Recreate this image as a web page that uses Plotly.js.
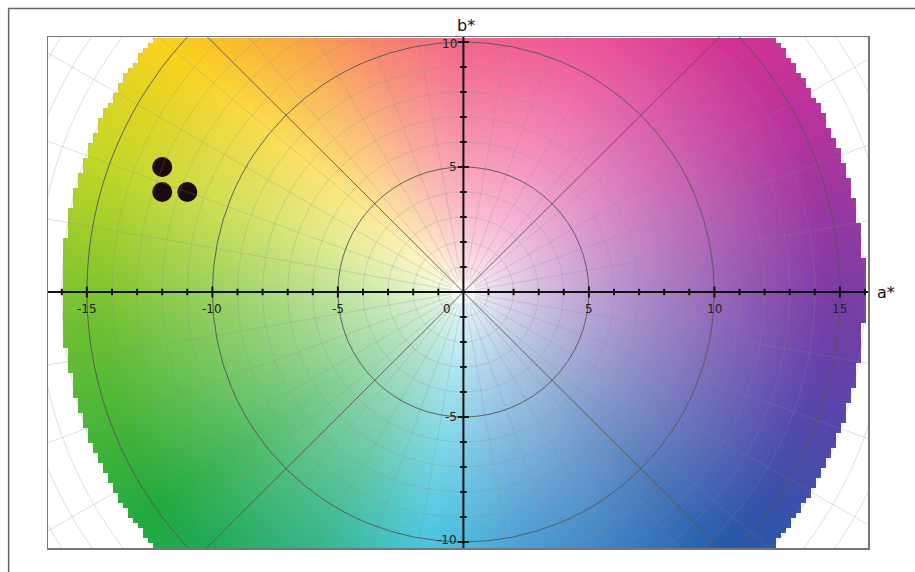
<!DOCTYPE html>
<html><head><meta charset="utf-8">
<script src="https://cdn.plot.ly/plotly-3.0.1.min.js"></script>
<style>body{margin:0;background:#fff}#plot{width:915px;height:572px}</style>
</head><body><div id="plot"></div>
<script>
// measured points (a*, b*)
const ptA = [-12, -12, -11];
const ptB = [5, 4, 4];

// colour wheel anchors: hue angle (deg from +a*) -> saturated colour
const hueAng = [0, 30, 60, 90, 110, 125, 140, 160, 185, 215, 240, 262, 285, 315, 340, 360];
const hueRGB = [
  [125,60,165],[190,50,155],[232,50,135],[238,55,105],[245,105,70],[248,160,40],[250,210,30],
  [195,215,40],[110,192,50],[35,170,62],[20,170,120],[20,182,215],[30,130,200],
  [35,90,170],[85,70,170],[125,60,165]
];
const aTicks = [-15, -10, -5, 0, 5, 10, 15];
const bTicks = [-10, -5, 5, 10];

const R = 16, XR = [-16.55, 16.12], YR = [-10.24, 10.2], D = 0.2;

function hueColor(deg) {
  for (let i = 0; i < hueAng.length - 1; i++) {
    if (deg <= hueAng[i + 1]) {
      const t = (deg - hueAng[i]) / (hueAng[i + 1] - hueAng[i]);
      return hueRGB[i].map((v, k) => v + (hueRGB[i + 1][k] - v) * t);
    }
  }
  return hueRGB[0];
}

// build the pixelated colour disk
const img = [];
for (let y = YR[0] + D / 2; y < YR[1]; y += D) {
  const row = [];
  for (let x = XR[0] + D / 2; x < XR[1]; x += D) {
    const r = Math.hypot(x, y);
    if (r > R) { row.push([255, 255, 255, 0]); continue; }
    let deg = Math.atan2(y, x) * 180 / Math.PI; if (deg < 0) deg += 360;
    const c = hueColor(deg), s = Math.min(1, Math.pow(r / 14.5, 0.7));
    row.push([...c.map(v => Math.round(255 + (v - 255) * s)), 1]);
  }
  img.push(row);
}

const shapes = [];
const L = (x0, y0, x1, y1, color, width) =>
  shapes.push({type: 'line', xref: 'x', yref: 'y', x0, y0, x1, y1, layer: 'above', line: {color, width}});
// fine polar grid
for (let r = 1; r <= 24; r++) {
  if (r % 5 === 0) continue;
  shapes.push({type: 'circle', xref: 'x', yref: 'y', x0: -r, x1: r, y0: -r, y1: r, layer: 'above',
    line: {color: 'rgba(140,140,140,0.35)', width: 0.8}});
}
for (let d = 0; d < 360; d += 10) {
  if (d % 45 === 0) continue;
  const t = d * Math.PI / 180;
  L(0.5 * Math.cos(t), 0.5 * Math.sin(t), 25 * Math.cos(t), 25 * Math.sin(t), 'rgba(140,140,140,0.35)', 0.8);
}
// main circles and diagonals
[5, 10, 15].forEach(r => shapes.push({type: 'circle', xref: 'x', yref: 'y', x0: -r, x1: r, y0: -r, y1: r,
  layer: 'above', line: {color: '#555', width: 0.9}}));
[45, 135, 225, 315].forEach(d => {
  const t = d * Math.PI / 180;
  L(0, 0, 25 * Math.cos(t), 25 * Math.sin(t), '#555', 0.9);
});
// axes with ticks
L(XR[0], 0, XR[1], 0, '#111', 2);
L(0, YR[0], 0, YR[1], '#111', 2);
for (let i = -16; i <= 16; i++) {
  if (i === 0) continue;
  const h = i % 5 === 0 ? 0.22 : 0.13;
  L(i, -h, i, h, '#111', 2);
  if (Math.abs(i) <= 10) L(-h, i, h, i, '#111', 2);
}

const ann = [];
const lblFont = {family: 'DejaVu Sans, sans-serif', size: 12, color: '#222'};
aTicks.forEach(v => ann.push({x: v === 0 ? -0.65 : v, y: 0, yshift: -17, text: String(v),
  showarrow: false, font: lblFont}));
bTicks.forEach(v => ann.push({x: 0, y: v, xanchor: 'right', xshift: -4,
  yshift: v === 10 ? -2 : v === -10 ? 2 : 0, text: String(v), showarrow: false, font: lblFont}));
ann.push({xref: 'paper', yref: 'y', x: 1.008, y: 0, xanchor: 'left', text: 'a*', showarrow: false,
  font: {family: 'DejaVu Sans, sans-serif', size: 16, color: '#111'}});
ann.push({xref: 'x', yref: 'paper', x: 0.1, y: 1.0, yanchor: 'bottom', text: 'b*', showarrow: false,
  font: {family: 'DejaVu Sans, sans-serif', size: 16, color: '#111'}});
shapes.push({type: 'rect', xref: 'paper', yref: 'paper', x0: -0.048, x1: 1.2, y0: -0.05, y1: 1.056,
  line: {color: '#666', width: 1.5}});

const traces = [
  {type: 'image', z: img, colormodel: 'rgba', x0: XR[0] + D / 2, dx: D, y0: YR[0] + D / 2, dy: D, hoverinfo: 'skip'},
  {type: 'scatter', mode: 'markers', x: ptA, y: ptB, marker: {size: 20, color: '#1a0a0a'}, hoverinfo: 'skip'}
];

const layout = {
  width: 915, height: 572,
  margin: {l: 48, r: 47, t: 37, b: 24},
  paper_bgcolor: '#fff', plot_bgcolor: '#fff',
  showlegend: false,
  xaxis: {range: XR, autorange: false, showgrid: false, zeroline: false, showticklabels: false, ticks: '',
    showline: true, mirror: true, linecolor: '#777', linewidth: 1.5},
  yaxis: {range: YR, autorange: false, scaleanchor: false, showgrid: false, zeroline: false, showticklabels: false,
    ticks: '', showline: true, mirror: true, linecolor: '#777', linewidth: 1.5},
  shapes, annotations: ann
};

Plotly.newPlot('plot', traces, layout, {displayModeBar: false, staticPlot: true});
</script></body></html>
